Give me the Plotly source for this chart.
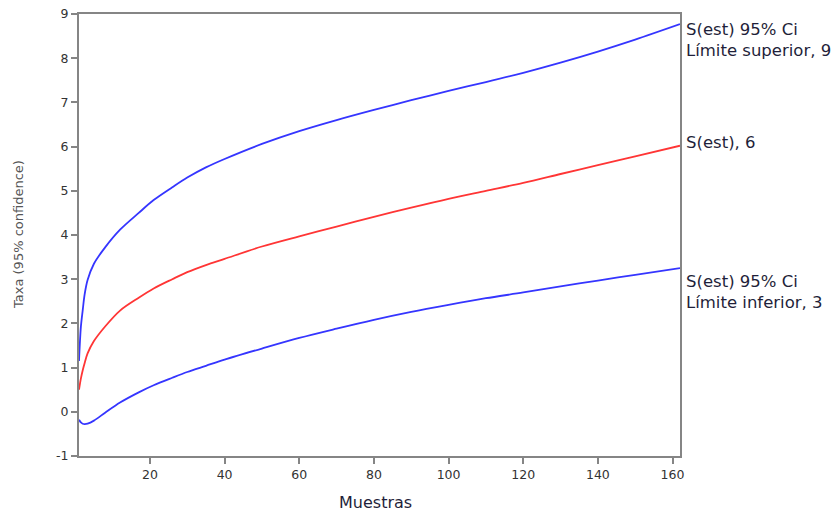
import plotly.graph_objects as go

# Data
muestras = [1, 1.5, 2, 2.5, 3.3, 5, 8, 12, 17, 21, 26, 30, 35, 40, 50, 60, 70, 80, 90, 100, 110, 120, 130, 140, 150, 162]
s_est = [0.5, 0.75, 0.94, 1.1, 1.32, 1.6, 1.93, 2.29, 2.58, 2.79, 3.0, 3.16, 3.32, 3.46, 3.74, 3.97, 4.19, 4.41, 4.62, 4.82, 5.0, 5.18, 5.38, 5.58, 5.78, 6.02]
s_upper = [1.15, 1.92, 2.3, 2.65, 2.98, 3.35, 3.72, 4.12, 4.5, 4.79, 5.08, 5.3, 5.53, 5.72, 6.06, 6.35, 6.6, 6.83, 7.05, 7.26, 7.46, 7.67, 7.9, 8.15, 8.42, 8.77]
s_lower = [-0.18, -0.24, -0.27, -0.28, -0.27, -0.2, -0.02, 0.21, 0.44, 0.6, 0.77, 0.9, 1.04, 1.18, 1.43, 1.67, 1.88, 2.08, 2.26, 2.42, 2.57, 2.70, 2.84, 2.97, 3.10, 3.25]

x_ticks = [20, 40, 60, 80, 100, 120, 140, 160]
y_ticks = [-1, 0, 1, 2, 3, 4, 5, 6, 7, 8, 9]
y_ticktext = ["-1", "0", "1", "2", "3", "4", "5", "6", "7", "8", "9"]

labels = {
    "upper": "S(est) 95% Ci<br>Límite superior, 9",
    "est": "S(est), 6",
    "lower": "S(est) 95% Ci<br>Límite inferior, 3",
}
x_title = "Muestras"
y_title = "Taxa (95% confidence)"

BLUE = "#3535ff"
RED = "#ff3535"
TXT = "#1f1f3a"

fig = go.Figure()
for ys, col in [(s_upper, BLUE), (s_est, RED), (s_lower, BLUE)]:
    fig.add_trace(go.Scatter(x=muestras, y=ys, mode="lines",
                             line=dict(color=col, width=1.8, shape="spline", smoothing=0.9)))

font_family = "DejaVu Sans"
ann_font = dict(family=font_family, size=16.5, color=TXT)
fig.add_annotation(x=1, xref="paper", y=s_upper[-1], yref="y", text=labels["upper"], showarrow=False,
                   xanchor="left", yanchor="middle", align="left", xshift=4, yshift=-16, font=ann_font)
fig.add_annotation(x=1, xref="paper", y=s_est[-1], yref="y", text=labels["est"], showarrow=False,
                   xanchor="left", yanchor="middle", align="left", xshift=4, yshift=3, font=ann_font)
fig.add_annotation(x=1, xref="paper", y=s_lower[-1], yref="y", text=labels["lower"], showarrow=False,
                   xanchor="left", yanchor="middle", align="left", xshift=4, yshift=-24, font=ann_font)

# axis titles
fig.add_annotation(x=0.5, xref="paper", y=0, yref="paper", text=x_title, showarrow=False,
                   xanchor="center", yanchor="middle", xshift=-4, yshift=-46,
                   font=dict(family=font_family, size=16, color=TXT))
fig.add_annotation(x=0, xref="paper", y=0.5, yref="paper", text=y_title, showarrow=False, textangle=-90,
                   xanchor="center", yanchor="middle", xshift=-61, yshift=0,
                   font=dict(family=font_family, size=13, color="#555555"))

axis_common = dict(showline=True, linecolor="#858585", linewidth=2, mirror=True, ticks="outside",
                   ticklen=6, tickwidth=1.5, tickcolor="#858585", showgrid=False, zeroline=False,
                   automargin=False,
                   tickfont=dict(family=font_family, size=12.5, color="#333333"))

fig.update_xaxes(range=[1, 162], tickmode="array", tickvals=x_ticks, **axis_common)
fig.update_yaxes(range=[-1, 9], tickmode="array", tickvals=y_ticks, ticktext=y_ticktext, **axis_common)

fig.update_layout(width=832, height=513, margin=dict(l=79, r=152, t=14, b=57),
                  plot_bgcolor="white", paper_bgcolor="white", showlegend=False)

fig.write_html("out.html")
